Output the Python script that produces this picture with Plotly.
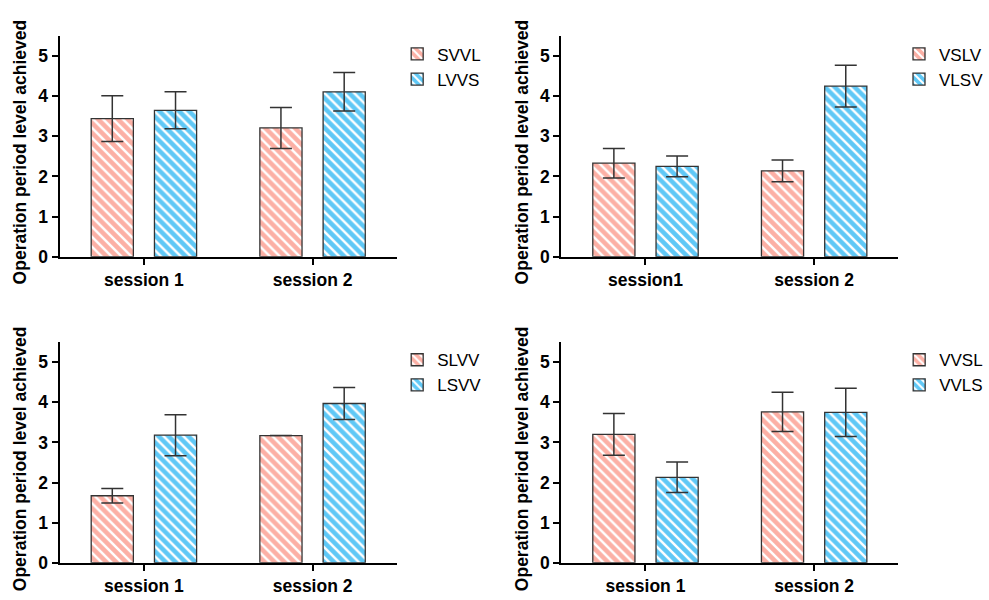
import plotly.graph_objects as go

# ---- data ----
cats_a = ["session 1", "session 2"]
cats_b = ["session1", "session 2"]
cats_c = ["session 1", "session 2"]
cats_d = ["session 1", "session 2"]

names_a = ["SVVL", "LVVS"]
vals_a1 = [3.44, 3.21]
errs_a1 = [0.57, 0.51]
vals_a2 = [3.65, 4.11]
errs_a2 = [0.46, 0.48]

names_b = ["VSLV", "VLSV"]
vals_b1 = [2.33, 2.14]
errs_b1 = [0.37, 0.27]
vals_b2 = [2.25, 4.25]
errs_b2 = [0.26, 0.52]

names_c = ["SLVV", "LSVV"]
vals_c1 = [1.67, 3.17]
errs_c1 = [0.18, 0.0]
vals_c2 = [3.18, 3.97]
errs_c2 = [0.51, 0.40]

names_d = ["VVSL", "VVLS"]
vals_d1 = [3.20, 3.76]
errs_d1 = [0.52, 0.49]
vals_d2 = [2.13, 3.75]
errs_d2 = [0.38, 0.60]

y_ticks = [0, 1, 2, 3, 4, 5]
y_title = "Operation period level achieved"

PINK = "#FCB0A5"
BLUE = "#5FC8F6"
EDGE = "#333333"
FONT = "Liberation Sans, Arial, sans-serif"

panels = [
    (cats_a, names_a, vals_a1, errs_a1, vals_a2, errs_a2),
    (cats_b, names_b, vals_b1, errs_b1, vals_b2, errs_b2),
    (cats_c, names_c, vals_c1, errs_c1, vals_c2, errs_c2),
    (cats_d, names_d, vals_d1, errs_d1, vals_d2, errs_d2),
]

W, H = 989, 600
# pixel geometry of plot areas (left, right, top, bottom)
boxes = [
    (59.7, 397.7, 36.7, 261.0),
    (562.3, 900.3, 36.7, 261.0),
    (59.7, 397.7, 347.9, 572.3),
    (562.3, 900.3, 347.9, 572.3),
]
legend_pos = [(398, 37), (901, 37), (398, 348), (901, 348)]
title_pos = [(20, 154), (523, 154), (20, 466), (523, 466)]

fig = go.Figure()
layout = {}
annotations = []
for i, (cats, names, v1, e1, v2, e2) in enumerate(panels):
    n = "" if i == 0 else str(i + 1)
    leg = "legend" if i == 0 else f"legend{i + 1}"
    for name, vals, errs, col in ((names[0], v1, e1, PINK), (names[1], v2, e2, BLUE)):
        fig.add_trace(go.Bar(
            x=cats, y=vals, name=name,
            xaxis="x" + n, yaxis="y" + n, legend=leg,
            marker=dict(color=col, line=dict(color=EDGE, width=1.3),
                        pattern=dict(shape="\\", fgcolor="white", bgcolor=col,
                                     size=7, solidity=0.35, fillmode="replace")),
            error_y=dict(type="data", array=errs, visible=True,
                         color=EDGE, thickness=1.5, width=11),
        ))
    l, r, t, b = boxes[i]
    layout["xaxis" + n] = dict(
        domain=[l / W, r / W], anchor="y" + n, range=[-0.5, 1.5],
        showline=True, linecolor="black", linewidth=2,
        ticks="outside", ticklen=6, tickwidth=2, tickcolor="black",
        tickfont=dict(family=FONT, size=17.5, color="black", weight="bold"),
        showgrid=False, zeroline=False, fixedrange=True,
    )
    layout["yaxis" + n] = dict(
        domain=[1 - b / H, 1 - t / H], anchor="x" + n, range=[0, 5.5],
        tickvals=y_ticks,
        showline=True, linecolor="black", linewidth=2,
        ticks="outside", ticklen=6, tickwidth=2, tickcolor="black",
        tickfont=dict(family=FONT, size=17.5, color="black", weight="bold"),
        showgrid=False, zeroline=False, fixedrange=True,
    )
    tx, ty = title_pos[i]
    annotations.append(dict(
        text=y_title, textangle=-90, showarrow=False,
        xref="paper", yref="paper", x=tx / W, y=1 - ty / H,
        xanchor="center", yanchor="middle",
        font=dict(family=FONT, size=17.5, color="black", weight="bold"),
    ))
    lx, ly = legend_pos[i]
    layout[leg] = dict(
        x=lx / W, y=1 - ly / H, xanchor="left", yanchor="top",
        font=dict(family=FONT, size=17, color="black"),
        bgcolor="rgba(0,0,0,0)", tracegroupgap=4, itemwidth=30,
    )

fig.update_layout(
    **layout,
    annotations=annotations,
    width=W, height=H,
    margin=dict(l=0, r=0, t=0, b=0),
    paper_bgcolor="white", plot_bgcolor="white",
    barmode="group", bargap=0.25, bargroupgap=1 / 3,
    showlegend=True,
    font=dict(family=FONT, color="black"),
)

fig.write_html("out.html", config={"displayModeBar": False},
               post_script="document.body.style.margin='0';document.body.style.padding='0';")
